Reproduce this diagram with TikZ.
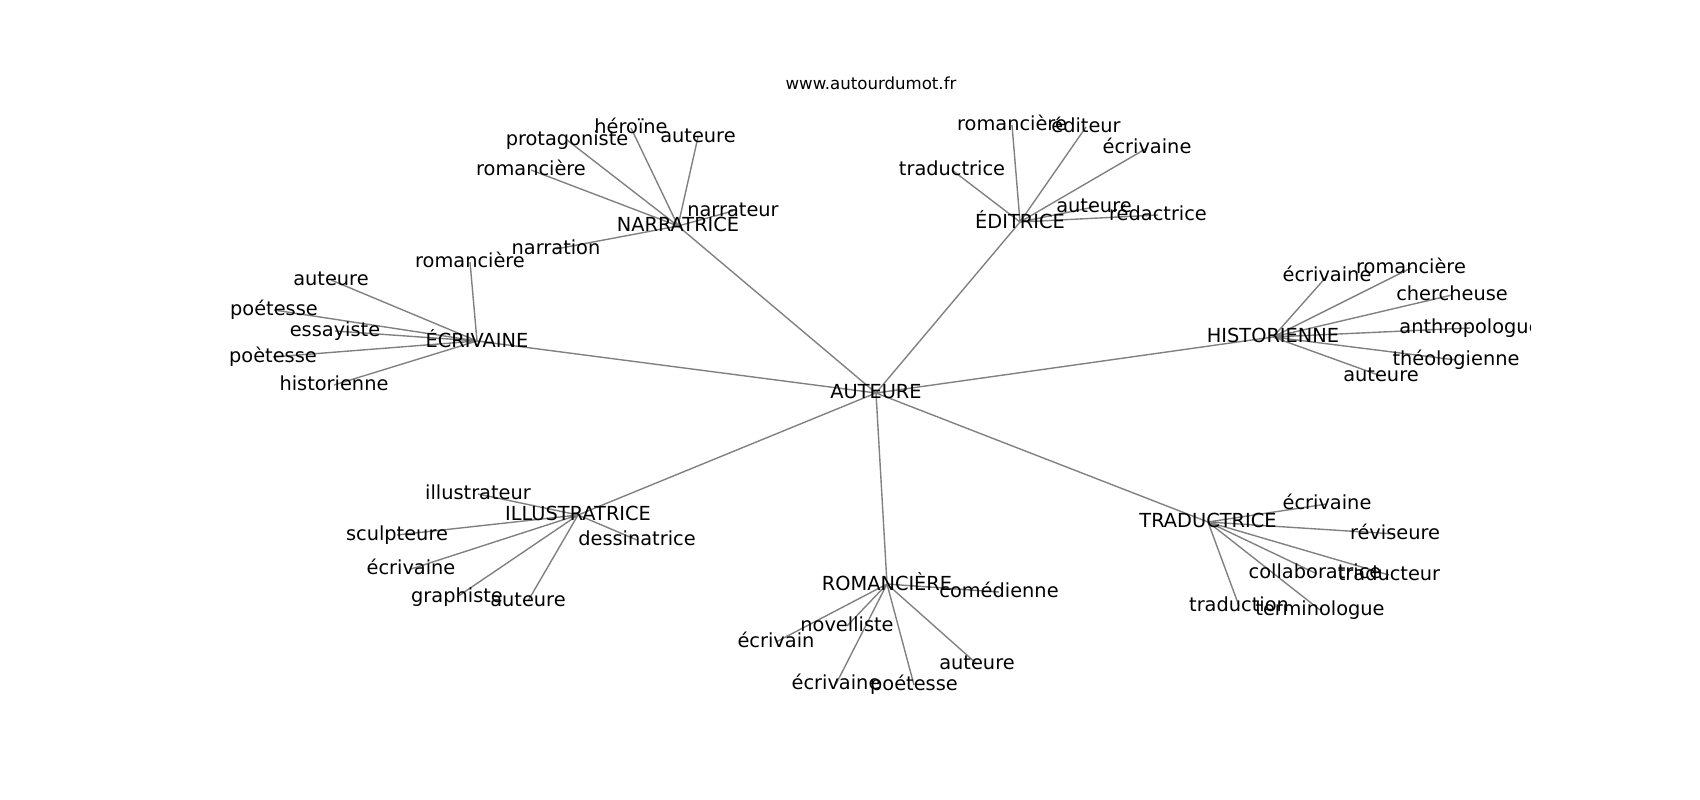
\documentclass[tikz,border=0pt]{standalone}
\usepackage{fontspec}
\setmainfont{DejaVu Sans}
\usetikzlibrary{backgrounds}
\tikzset{
word/.style={font=\fontsize{11.02}{13}\selectfont, inner sep=0pt, execute at begin node=\vphantom{lp}},
site/.style={font=\fontsize{9.45}{11}\selectfont, inner sep=0pt, anchor=base},
link/.style={draw=gray, line width=0.79pt}
}

\begin{document}
\begin{tikzpicture}[x=0.02cm, y=-0.02cm]
\useasboundingbox (0,0) rectangle (1700,800);
\node[site] (site) at (871,89.5) {www.autourdumot.fr};
\begin{scope}
\clip (212.5,96) rectangle (1530,712);
\node[word] (auteure) at (876,393) {AUTEURE};
\node[word] (narratrice) at (678,226) {NARRATRICE};
\node[word] (narr1) at (631,128) {héroïne};
\node[word] (narr2) at (567,140) {protagoniste};
\node[word] (narr3) at (698,137) {auteure};
\node[word] (narr4) at (531,170) {romancière};
\node[word] (narr5) at (733,211) {narrateur};
\node[word] (narr6) at (556,249) {narration};
\node[word] (editrice) at (1020,222) {ÉDITRICE};
\node[word] (edit1) at (1012,125) {romancière};
\node[word] (edit2) at (1086,127) {éditeur};
\node[word] (edit3) at (1147,148) {écrivaine};
\node[word] (edit4) at (952,170) {traductrice};
\node[word] (edit5) at (1094,207) {auteure};
\node[word] (edit6) at (1158,215) {rédactrice};
\node[word] (ecrivaine) at (477,341) {ÉCRIVAINE};
\node[word] (ecri1) at (470,262) {romancière};
\node[word] (ecri2) at (331,280) {auteure};
\node[word] (ecri3) at (274,310) {poétesse};
\node[word] (ecri4) at (335,331) {essayiste};
\node[word] (ecri5) at (273,357) {poètesse};
\node[word] (ecri6) at (334,385) {historienne};
\node[word] (historienne) at (1273,337) {HISTORIENNE};
\node[word] (hist1) at (1327,276) {écrivaine};
\node[word] (hist2) at (1411,268) {romancière};
\node[word] (hist3) at (1452,295) {chercheuse};
\node[word] (hist4) at (1470,328) {anthropologue};
\node[word] (hist5) at (1456,360) {théologienne};
\node[word] (hist6) at (1381,376) {auteure};
\node[word] (illustratrice) at (578,515) {ILLUSTRATRICE};
\node[word] (illu1) at (478,494) {illustrateur};
\node[word] (illu2) at (397,535) {sculpteure};
\node[word] (illu3) at (637,540) {dessinatrice};
\node[word] (illu4) at (411,569) {écrivaine};
\node[word] (illu5) at (457,597) {graphiste};
\node[word] (illu6) at (528,601) {auteure};
\node[word] (romanciere) at (887,584) {ROMANCIÈRE};
\node[word] (roma1) at (999,592) {comédienne};
\node[word] (roma2) at (847,626) {novelliste};
\node[word] (roma3) at (776,642) {écrivain};
\node[word] (roma4) at (977,664) {auteure};
\node[word] (roma5) at (836,684) {écrivaine};
\node[word] (roma6) at (914,685) {poétesse};
\node[word] (traductrice) at (1208,522) {TRADUCTRICE};
\node[word] (trad1) at (1327,504) {écrivaine};
\node[word] (trad2) at (1395,534) {réviseure};
\node[word] (trad3) at (1315,573) {collaboratrice};
\node[word] (trad4) at (1389,575) {traducteur};
\node[word] (trad5) at (1239,606) {traduction};
\node[word] (trad6) at (1320,610) {terminologue};
\end{scope}
\begin{pgfonlayer}{background}
\draw[link] (auteure.center) -- (narratrice.center) (auteure.center) -- (editrice.center)
  (auteure.center) -- (ecrivaine.center) (auteure.center) -- (historienne.center)
  (auteure.center) -- (illustratrice.center) (auteure.center) -- (romanciere.center)
  (auteure.center) -- (traductrice.center);
\draw[link] (narratrice.center) -- (narr1.center) (narratrice.center) -- (narr2.center)
  (narratrice.center) -- (narr3.center) (narratrice.center) -- (narr4.center)
  (narratrice.center) -- (narr5.center) (narratrice.center) -- (narr6.center);
\draw[link] (editrice.center) -- (edit1.center) (editrice.center) -- (edit2.center)
  (editrice.center) -- (edit3.center) (editrice.center) -- (edit4.center)
  (editrice.center) -- (edit5.center) (editrice.center) -- (edit6.center);
\draw[link] (ecrivaine.center) -- (ecri1.center) (ecrivaine.center) -- (ecri2.center)
  (ecrivaine.center) -- (ecri3.center) (ecrivaine.center) -- (ecri4.center)
  (ecrivaine.center) -- (ecri5.center) (ecrivaine.center) -- (ecri6.center);
\draw[link] (historienne.center) -- (hist1.center) (historienne.center) -- (hist2.center)
  (historienne.center) -- (hist3.center) (historienne.center) -- (hist4.center)
  (historienne.center) -- (hist5.center) (historienne.center) -- (hist6.center);
\draw[link] (illustratrice.center) -- (illu1.center) (illustratrice.center) -- (illu2.center)
  (illustratrice.center) -- (illu3.center) (illustratrice.center) -- (illu4.center)
  (illustratrice.center) -- (illu5.center) (illustratrice.center) -- (illu6.center);
\draw[link] (romanciere.center) -- (roma1.center) (romanciere.center) -- (roma2.center)
  (romanciere.center) -- (roma3.center) (romanciere.center) -- (roma4.center)
  (romanciere.center) -- (roma5.center) (romanciere.center) -- (roma6.center);
\draw[link] (traductrice.center) -- (trad1.center) (traductrice.center) -- (trad2.center)
  (traductrice.center) -- (trad3.center) (traductrice.center) -- (trad4.center)
  (traductrice.center) -- (trad5.center) (traductrice.center) -- (trad6.center);
\end{pgfonlayer}
\end{tikzpicture}
\end{document}
